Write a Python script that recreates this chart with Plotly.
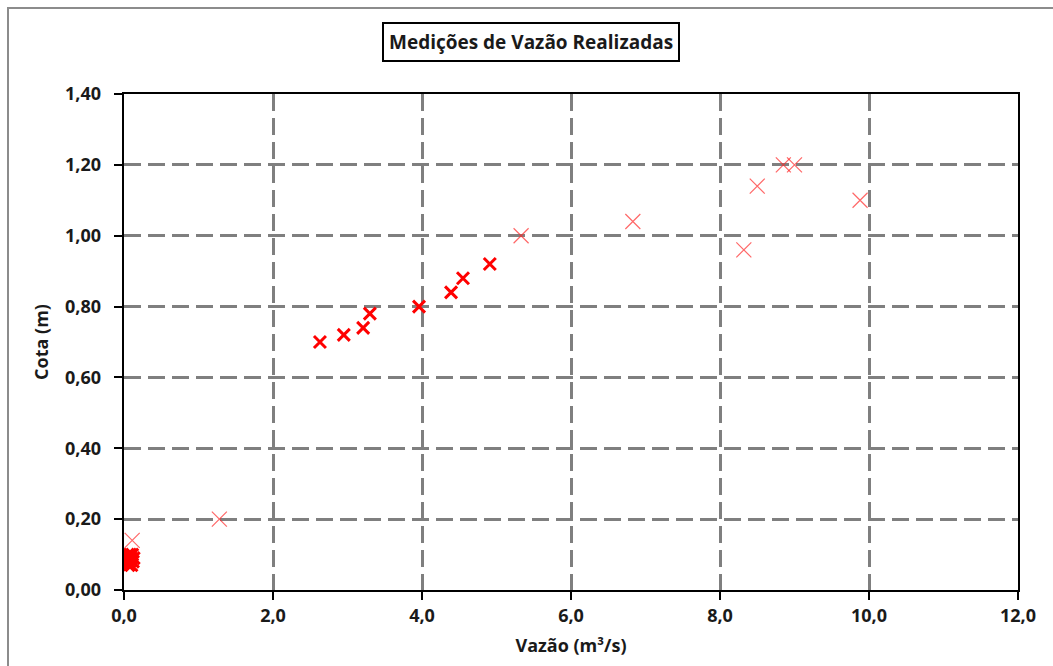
import plotly.graph_objects as go

# Bold (recent) measurements
vazao_a = [2.63, 2.95, 3.21, 3.30, 3.96, 4.39, 4.55, 4.91,
           0.04, 0.06, 0.08, 0.10, 0.12, 0.05, 0.09, 0.03, 0.11, 0.07, 0.13, 0.06]
cota_a = [0.70, 0.72, 0.74, 0.78, 0.80, 0.84, 0.88, 0.92,
          0.08, 0.09, 0.10, 0.07, 0.08, 0.10, 0.09, 0.09, 0.10, 0.08, 0.09, 0.07]

# Faint measurements
vazao_b = [0.11, 1.28, 5.33, 6.83, 8.32, 8.50, 8.85, 9.00, 9.88]
cota_b = [0.14, 0.20, 1.00, 1.04, 0.96, 1.14, 1.20, 1.20, 1.10]

FONT = "Open Sans"
TXT = "#1a1a1a"

fig = go.Figure()
fig.add_trace(go.Scatter(
    x=vazao_b, y=cota_b, mode="markers",
    marker=dict(symbol="x-thin", size=15, line=dict(width=1.2, color="rgba(255,40,40,0.7)")),
    showlegend=False))
fig.add_trace(go.Scatter(
    x=vazao_a, y=cota_a, mode="markers",
    marker=dict(symbol="x-thin", size=12, line=dict(width=3, color="#ff0000")),
    showlegend=False))

L, R, T, B = 124, 35, 94, 76
W, H = 1053, 666
pw, ph = W - L - R, H - T - B

fig.update_layout(
    width=W, height=H,
    margin=dict(l=L, r=R, t=T, b=B),
    paper_bgcolor="white", plot_bgcolor="white",
    separators=",.",
    font=dict(family=FONT, color=TXT),
    annotations=[dict(
        text="Medições de Vazão Realizadas",
        xref="paper", yref="paper", x=(531 - L) / pw, y=(H - 42 - B) / ph,
        xanchor="center", yanchor="middle", showarrow=False,
        font=dict(family=FONT, size=19, color=TXT, weight="bold"),
        bordercolor="black", borderwidth=2, borderpad=5, bgcolor="white")],
    shapes=[dict(
        type="rect", xref="paper", yref="paper",
        x0=(8 - L) / pw, x1=(W + 5 - L) / pw,
        y0=-(B + 10) / ph, y1=(H - 8 - B) / ph,
        line=dict(color="#8c8c8c", width=2), layer="below")],
)

fig.update_xaxes(
    range=[0, 12], dtick=2, tickformat=".1f",
    showgrid=True, gridcolor="#7f7f7f", gridwidth=2.5, griddash="17px,7px",
    showline=True, linecolor="black", linewidth=2, mirror=True,
    ticks="outside", ticklen=8, tickwidth=2, tickcolor="black",
    zeroline=False,
    tickfont=dict(family=FONT, size=18, color=TXT, weight="bold"),
    title=dict(text="Vazão (m³/s)", font=dict(family=FONT, size=18, color=TXT, weight="bold"), standoff=14),
)
fig.update_yaxes(
    range=[0, 1.4], dtick=0.2, tickformat=".2f", ticksuffix="\u00a0\u00a0",
    showgrid=True, gridcolor="#7f7f7f", gridwidth=2.5, griddash="17px,7px",
    showline=True, linecolor="black", linewidth=2, mirror=True,
    ticks="outside", ticklen=8, tickwidth=2, tickcolor="black",
    zeroline=False,
    tickfont=dict(family=FONT, size=18, color=TXT, weight="bold"),
    title=dict(text="Cota (m)", font=dict(family=FONT, size=18, color=TXT, weight="bold"), standoff=12),
)

fig.write_html("out.html")
